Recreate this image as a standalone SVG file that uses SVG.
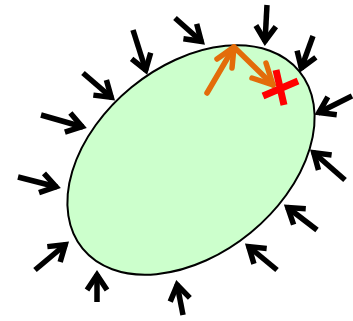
<svg xmlns="http://www.w3.org/2000/svg" width="353" height="321" viewBox="0 0 353 321">
<defs>
<style>
.ar{stroke:#000;stroke-width:5.5;fill:none;marker-end:url(#h)}
.or{stroke:#e36c0a;stroke-width:5.5;fill:none;stroke-linecap:round;stroke-linejoin:round}
.x{stroke:#ff0000;stroke-width:7;fill:none}
</style>
<marker id="h" markerUnits="userSpaceOnUse" markerWidth="40" markerHeight="40" viewBox="-20 -20 40 40" refX="0" refY="0" orient="auto" overflow="visible">
<path d="M-16,-10 L-1,0 L-16,10" stroke="#000" stroke-width="5.5" fill="none" stroke-linejoin="miter"/>
</marker>
</defs>
<g id="body">
<ellipse cx="191" cy="160" rx="140" ry="94" transform="rotate(-39.3 191 160)" fill="#ccffcc" stroke="#000" stroke-width="2"/>
</g>
<g id="connectors">
<line class="ar" x1="41" y1="115" x2="83" y2="127"/>
<line class="ar" x1="83" y1="73" x2="112" y2="98"/>
<line class="ar" x1="133" y1="30" x2="146" y2="71"/>
<line class="ar" x1="175" y1="18" x2="202" y2="42"/>
<line class="ar" x1="267" y1="5" x2="265" y2="42"/>
<line class="ar" x1="313" y1="36" x2="301" y2="69"/>
<line class="ar" x1="352" y1="96" x2="318" y2="113"/>
<line class="ar" x1="345" y1="180" x2="313" y2="152"/>
<line class="ar" x1="317" y1="230" x2="287" y2="207"/>
<line class="ar" x1="277" y1="270" x2="248" y2="246"/>
<line class="ar" x1="183" y1="315" x2="177" y2="284"/>
<line class="ar" x1="97" y1="302" x2="97" y2="274"/>
<line class="ar" x1="35" y1="270" x2="66" y2="244"/>
<line class="ar" x1="18" y1="177" x2="57" y2="187"/>
</g>
<g id="path-arrows">
<path class="or" d="M207,93 L234,47 L273,85"/>
<path class="or" d="M217,59 L234,47 L232,68"/>
<path class="or" d="M252,78 L273,85 L266,63"/>
</g>
<g id="cross">
<path class="x" d="M263,96 L298,81 M276,70 L284,105"/>
</g>
</svg>
